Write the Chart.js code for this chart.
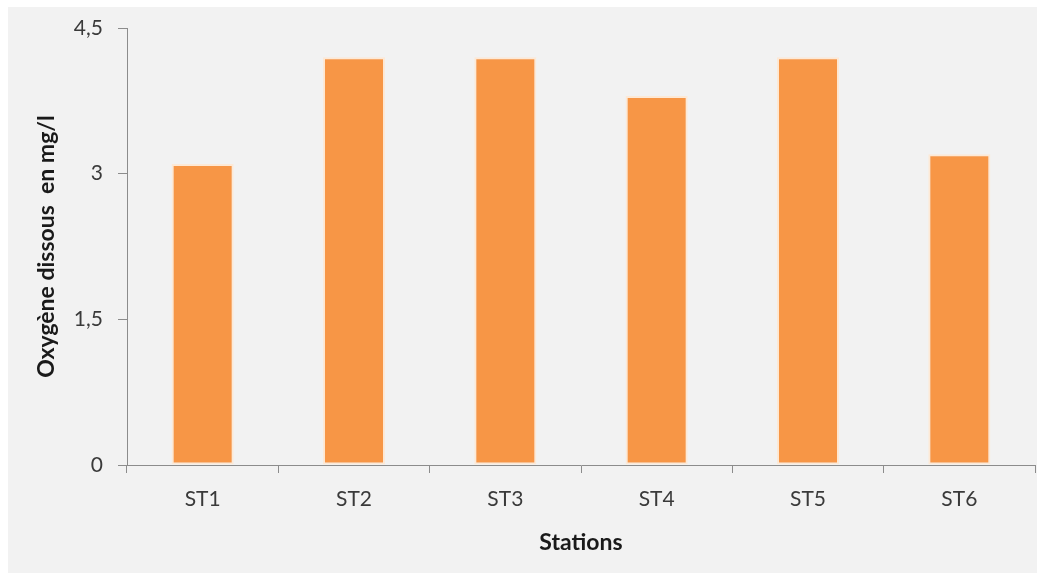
<!DOCTYPE html>
<html>
<head>
<meta charset="utf-8">
<script src="https://cdn.jsdelivr.net/npm/chart.js@4.4.1/dist/chart.umd.min.js"></script>
<style>
  html, body { margin: 0; padding: 0; background: #fff; }
  #wrap { position: absolute; left: 8px; top: 7px; width: 1029px; height: 566px; background: #f2f2f2; }
</style>
</head>
<body>
<div id="wrap"><canvas id="chart"></canvas></div>
<script>
// --- DATA ---
const stations = ['ST1', 'ST2', 'ST3', 'ST4', 'ST5', 'ST6'];
const oxygen = [3.1, 4.2, 4.2, 3.8, 4.2, 3.2];
const yTicks = [0, 1.5, 3, 4.5];

const FONT = "Lato, 'Open Sans', sans-serif";

const ctx = document.getElementById('chart').getContext('2d');

const chart = new Chart(ctx, {
    type: 'bar',
    data: {
        labels: stations,
        datasets: [{
            data: oxygen,
            backgroundColor: '#f79646',
            borderColor: '#fde9d6',
            borderWidth: 2,
            borderSkipped: false,
            categoryPercentage: 1,
            barPercentage: 0.41
        }]
    },
    options: {
        responsive: true,
        maintainAspectRatio: false,
        animation: false,
        layout: { padding: { top: 21, right: 2, left: 0, bottom: 0 } },
        plugins: { legend: { display: false }, tooltip: { enabled: false } },
        scales: {
            x: {
                grid: { offset: true, drawOnChartArea: false, tickLength: 8, color: '#8c8c8c' },
                border: { color: '#8c8c8c', width: 1 },
                ticks: { color: '#3a3a3a', padding: 14, font: { family: FONT, size: 21 } },
                title: {
                    display: true, text: 'Stations', color: '#1a1a1a',
                    font: { family: FONT, size: 23, weight: 'bold' }, padding: { top: 4, bottom: 17 }
                },
                afterFit: s => { s.height = 108; }
            },
            y: {
                min: 0, max: 4.5,
                afterBuildTicks: s => { s.ticks = yTicks.map(v => ({ value: v })); },
                grid: { drawOnChartArea: false, tickLength: 9, color: '#8c8c8c' },
                border: { color: '#8c8c8c', width: 1 },
                ticks: {
                    color: '#3a3a3a', padding: 15, font: { family: FONT, size: 21 },
                    callback: v => String(v).replace('.', ',')
                },
                title: {
                    display: true, text: 'Oxygène dissous  en mg/l', color: '#1a1a1a',
                    font: { family: FONT, size: 23, weight: 'bold' }, padding: { top: 25, bottom: 0 }
                },
                afterFit: s => { s.width = 119; s.paddingTop = 0; s.paddingBottom = 0; }
            }
        }
    }
});
</script>
</body>
</html>
